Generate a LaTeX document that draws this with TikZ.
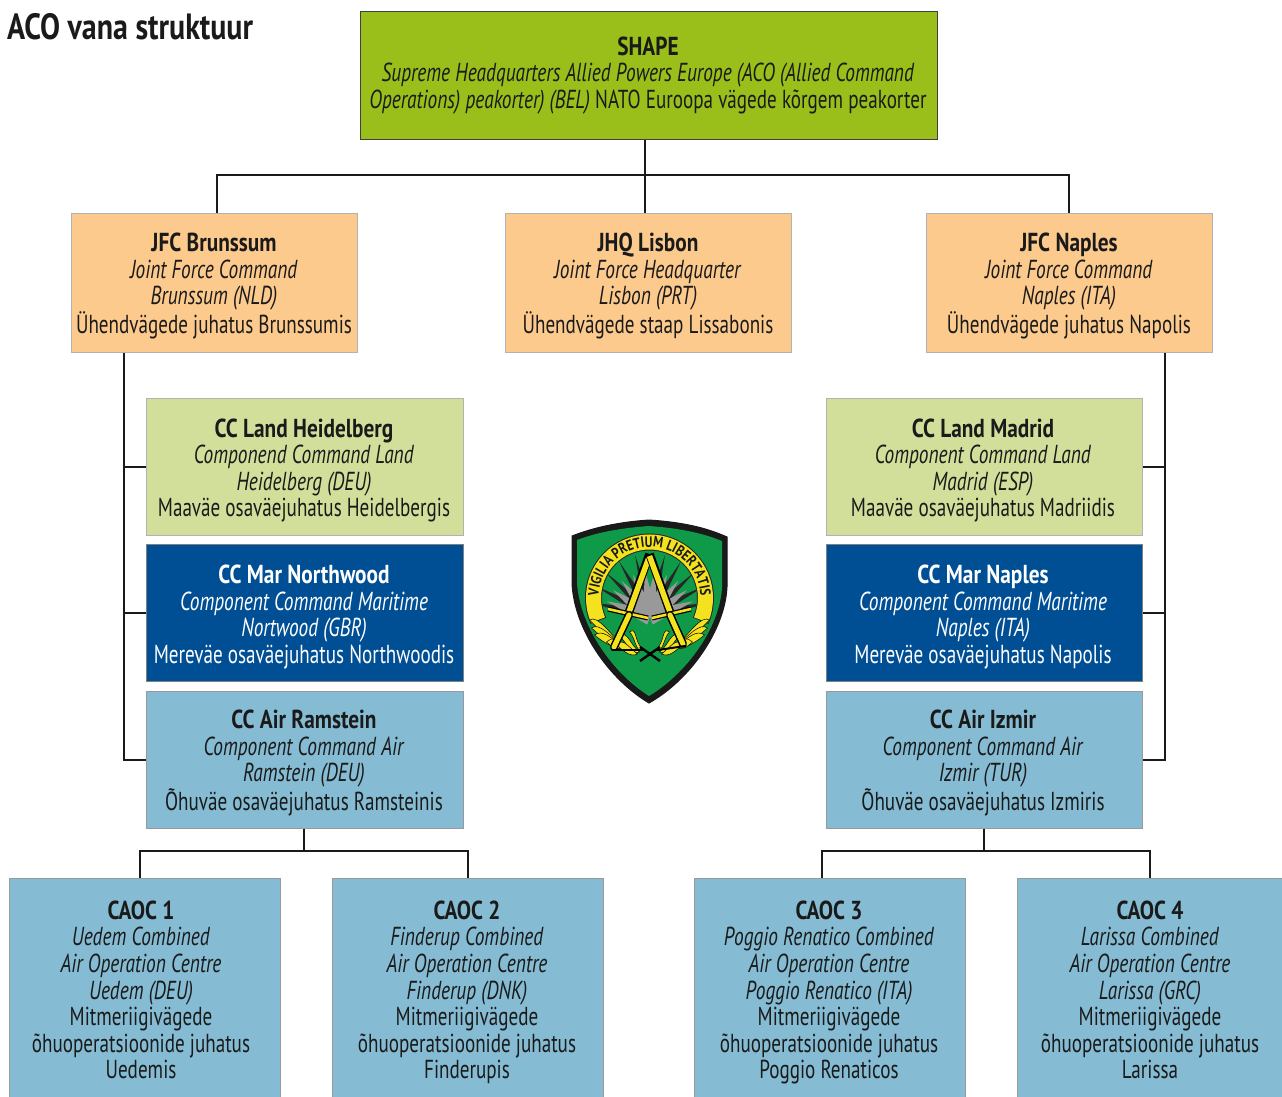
\documentclass[tikz,border=0pt]{standalone}
\usepackage{fontspec}
\setmainfont[FakeStretch=0.735,ItalicFeatures={FakeStretch=0.745},BoldFeatures={FakeStretch=0.82}]{PT Sans}
\usetikzlibrary{decorations.text}
\definecolor{inkc}{HTML}{1A1A1A}
\definecolor{shapeg}{HTML}{9ABF1B}
\definecolor{jfcor}{HTML}{FCCA8C}
\definecolor{landg}{HTML}{D1DF9B}
\definecolor{marb}{HTML}{004F95}
\definecolor{airb}{HTML}{85BCD3}
\definecolor{emgreen}{HTML}{0E9A48}
\definecolor{emyel}{HTML}{F4E21E}
\tikzset{
  orgbox/.style={draw=#1,line width=0.9pt,inner sep=0pt,anchor=north west},
  orgtext/.style={text=inkc,align=center,inner sep=0pt,font=\fontsize{26}{26.6}\selectfont},
  link/.style={draw=inkc,line width=1.1pt},
}
\newcommand{\orgb}[7]{% name, fill, border, x1,y1,x2,y2
  \pgfmathsetmacro{\wdt}{#6-#4-0.8}\pgfmathsetmacro{\hgt}{#7-#5+0.6}
  \node[orgbox=#3,fill=#2,minimum width=\wdt pt,minimum height=\hgt pt] (#1) at (#4-0.5,#5-0.8) {};
}
\begin{document}
\begin{tikzpicture}[x=1pt,y=-1pt]
\useasboundingbox (0,0) rectangle (1282,1097);
\begin{scope}
\clip (0,0) rectangle (1282,1097);
% boxes
\orgb{shapeb}{shapeg}{black!75}{360}{12}{938}{139}
\orgb{jfcb}{jfcor}{black!30}{71.5}{214}{358}{352}
\orgb{jhq}{jfcor}{black!30}{505}{214}{792}{352}
\orgb{jfcn}{jfcor}{black!30}{926}{214}{1213}{352}
\orgb{landh}{landg}{black!30}{146}{399}{464}{535}
\orgb{marn}{marb}{black!50}{146}{545}{464}{681}
\orgb{airr}{airb}{black!40}{146}{692}{464}{828}
\orgb{landm}{landg}{black!30}{826}{399}{1143}{535}
\orgb{marm}{marb}{black!50}{826}{545}{1143}{681}
\orgb{airi}{airb}{black!40}{826}{692}{1143}{828}
\orgb{caoca}{airb}{black!40}{9}{879}{281}{1110}
\orgb{caocb}{airb}{black!40}{332}{879}{604}{1110}
\orgb{caocc}{airb}{black!40}{694}{879}{966}{1110}
\orgb{caocd}{airb}{black!40}{1017}{879}{1289}{1110}
\end{scope}
% connector anchors
\coordinate (trunk) at (645,175);
\coordinate (busl) at (217,175);
\coordinate (busr) at (1069,175);
\coordinate (spl) at (124,466);
\coordinate (spr) at (1165,466);
\coordinate (rama) at (304,851);
\coordinate (ramb) at (140,851);
\coordinate (ramc) at (468,851);
\coordinate (izma) at (984,851);
\coordinate (izmb) at (822,851);
\coordinate (izmc) at (1150,851);
% connectors
\draw[link] (trunk |- shapeb.south) -- (trunk |- jhq.north);
\draw[link] (busl |- jfcb.north) -- (busl) -- (busr) -- (busr |- jfcn.north);
\draw[link] (spl |- jfcb.south) -- (spl |- airr.west) -- (airr.west);
\draw[link] (spl |- landh.west) -- (landh.west);
\draw[link] (spl |- marn.west) -- (marn.west);
\draw[link] (spr |- jfcn.south) -- (spr |- airi.east) -- (airi.east);
\draw[link] (spr |- landm.east) -- (landm.east);
\draw[link] (spr |- marm.east) -- (marm.east);
\draw[link] (rama |- airr.south) -- (rama);
\draw[link] (ramb |- caoca.north) -- (ramb) -- (ramc) -- (ramc |- caocb.north);
\draw[link] (izma |- airi.south) -- (izma);
\draw[link] (izmb |- caocc.north) -- (izmb) -- (izmc) -- (izmc |- caocd.north);
% title
\node[text=inkc,inner sep=0pt,anchor=west,font=\fontsize{36.5}{38}\selectfont\bfseries] (title) at (7,27) {ACO vana struktuur};
% texts
\node[orgtext] (t1) at (648,75.5) {\textbf{SHAPE}\\\textit{Supreme Headquarters Allied Powers Europe (ACO (Allied Command}\\\textit{Operations) peakorter) (BEL)} NATO Euroopa vägede kõrgem peakorter};
\node[orgtext] (t2) at (214,286) {\textbf{JFC Brunssum}\\\textit{Joint Force Command}\\\textit{Brunssum (NLD)}\\Ühendvägede juhatus Brunssumis};
\node[orgtext] (t3) at (648,286) {\textbf{JHQ Lisbon}\\\textit{Joint Force Headquarter}\\\textit{Lisbon (PRT)}\\Ühendvägede staap Lissabonis};
\node[orgtext] (t4) at (1069,286) {\textbf{JFC Naples}\\\textit{Joint Force Command}\\\textit{Naples (ITA)}\\Ühendvägede juhatus Napolis};
\node[orgtext] (t5) at (304,470.5) {\textbf{CC Land Heidelberg}\\\textit{Componend Command Land}\\\textit{Heidelberg (DEU)}\\Maaväe osaväejuhatus Heidelbergis};
\node[orgtext,text=white] (t6) at (304,617) {\textbf{CC Mar Northwood}\\\textit{Component Command Maritime}\\\textit{Nortwood (GBR)}\\Mereväe osaväejuhatus Northwoodis};
\node[orgtext] (t7) at (304,763) {\textbf{CC Air Ramstein}\\\textit{Component Command Air}\\\textit{Ramstein (DEU)}\\Õhuväe osaväejuhatus Ramsteinis};
\node[orgtext] (t8) at (983,470.5) {\textbf{CC Land Madrid}\\\textit{Component Command Land}\\\textit{Madrid (ESP)}\\Maaväe osaväejuhatus Madriidis};
\node[orgtext,text=white] (t9) at (983,617) {\textbf{CC Mar Naples}\\\textit{Component Command Maritime}\\\textit{Naples (ITA)}\\Mereväe osaväejuhatus Napolis};
\node[orgtext] (t10) at (983,763) {\textbf{CC Air Izmir}\\\textit{Component Command Air}\\\textit{Izmir (TUR)}\\Õhuväe osaväejuhatus Izmiris};
\node[orgtext] (t11) at (141,992.5) {\textbf{CAOC 1}\\\textit{Uedem Combined}\\\textit{Air Operation Centre}\\\textit{Uedem (DEU)}\\Mitmeriigivägede\\õhuoperatsioonide juhatus\\Uedemis\vphantom{p}};
\node[orgtext] (t12) at (467,992.5) {\textbf{CAOC 2}\\\textit{Finderup Combined}\\\textit{Air Operation Centre}\\\textit{Finderup (DNK)}\\Mitmeriigivägede\\õhuoperatsioonide juhatus\\Finderupis};
\node[orgtext] (t13) at (829,992.5) {\textbf{CAOC 3}\\\textit{Poggio Renatico Combined}\\\textit{Air Operation Centre}\\\textit{Poggio Renatico (ITA)}\\Mitmeriigivägede\\õhuoperatsioonide juhatus\\Poggio Renaticos};
\node[orgtext] (t14) at (1150,992.5) {\textbf{CAOC 4}\\\textit{Larissa Combined}\\\textit{Air Operation Centre}\\\textit{Larissa (GRC)}\\Mitmeriigivägede\\õhuoperatsioonide juhatus\\Larissa\vphantom{p}};
% emblem
\begin{scope}
\fill[black!90,draw=black!90,line width=1pt] (649,520) .. controls (620,522) and (595,527) .. (572,536) -- (572,583)
  .. controls (574,630) and (610,680) .. (649,703) .. controls (690,680) and (725,630) .. (727,587) -- (727,537)
  .. controls (705,527) and (680,522) .. (649,520) -- cycle;
\fill[emgreen] (649,526) .. controls (622,528) and (598,532) .. (577,540) -- (577,583)
  .. controls (580,628) and (614,674) .. (649,696) .. controls (686,674) and (720,628) .. (722,587) -- (722,541)
  .. controls (700,532) and (676,528) .. (649,526) -- cycle;
% ring
\draw[black!85,line width=17pt,line cap=butt] ({649.5+56*cos(204)},{598-56*sin(204)}) arc[start angle=204,end angle=-24,radius=56pt];
\draw[emyel,line width=15pt,line cap=butt] ({649.5+56*cos(203)},{598-56*sin(203)}) arc[start angle=203,end angle=-23,radius=56pt];
% rays
\begin{scope}
\clip (649.5,598) circle[radius=47.5pt];
\foreach \a in {12,28,44,60,76,104,120,136,152,168}{
  \fill[black!85] ({650+5*cos(\a+90)},{615-5*sin(\a+90)}) -- ({650+62*cos(\a)},{615-62*sin(\a)}) -- ({650-5*cos(\a+90)},{615+5*sin(\a+90)}) -- cycle;
}
\foreach \a in {20,36,52,68,84,96,112,128,144,160}{
  \fill[black!40] ({650+8*cos(\a+90)},{617-8*sin(\a+90)}) -- ({650+46*cos(\a)},{617-46*sin(\a)}) -- ({650-8*cos(\a+90)},{617+8*sin(\a+90)}) -- cycle;
}
\end{scope}
% laurel
\foreach \sx in {1,-1}{
  \foreach \px/\py/\qx/\qy in {28/26/60/2,28/27/58/10,28/28/55/17,26/29/43/24,6/32/20/14,10/34/30/18,12/36/34/26}{
    \fill[emyel,draw=black,line width=0.5pt] ({649.5+\sx*\px},{618+\py}) .. controls ({649.5+\sx*(\px+10)},{618+\py-8}) and ({649.5+\sx*(\qx-8)},{618+\qy-6}) .. ({649.5+\sx*\qx},{618+\qy})
      .. controls ({649.5+\sx*(\qx-6)},{618+\qy+5}) and ({649.5+\sx*(\px+8)},{618+\py+4}) .. ({649.5+\sx*\px},{618+\py}) -- cycle;
  }
}
\draw[black,line width=2.4pt] (640,661) -- (660,647);
\draw[black,line width=2.4pt] (660,661) -- (640,647);
% swords
\foreach \ex/\ey/\gax/\gay/\gbx/\gby/\hx/\hy in {629/612/608/609/648/618/614/647, 670/612/691/609/652/618/683/644}{
  \draw[black,line width=8.5pt] (649.5,554) -- (\ex,\ey);
  \draw[emyel,line width=5.5pt] (649.5,556) -- (\ex,\ey);
  \draw[black,line width=5pt] (\gax,\gay) -- (\gbx,\gby);
  \draw[emyel,line width=2.6pt] (\gax,\gay) -- (\gbx,\gby);
  \draw[black,line width=8pt,line cap=round] (\ex,\ey+3) -- (\hx,\hy);
  \draw[emyel,line width=5pt,line cap=round] (\ex,\ey+3) -- (\hx,\hy);
}
\draw[black,line width=2pt,line cap=round] (612,650) -- (642,650);
\draw[black,line width=2pt,line cap=round] (685,646) -- (658,650);
% motto
\path[decorate,decoration={text along path,text align=center,text color=black!90,
  text={|\fontsize{15}{15}\selectfont\bfseries|VIGILIA PRETIUM LIBERTATIS}}]
  ({649.5+51*cos(200)},{598-51*sin(200)}) arc[start angle=200,end angle=-20,radius=51pt];
\end{scope}
\end{tikzpicture}
\end{document}
